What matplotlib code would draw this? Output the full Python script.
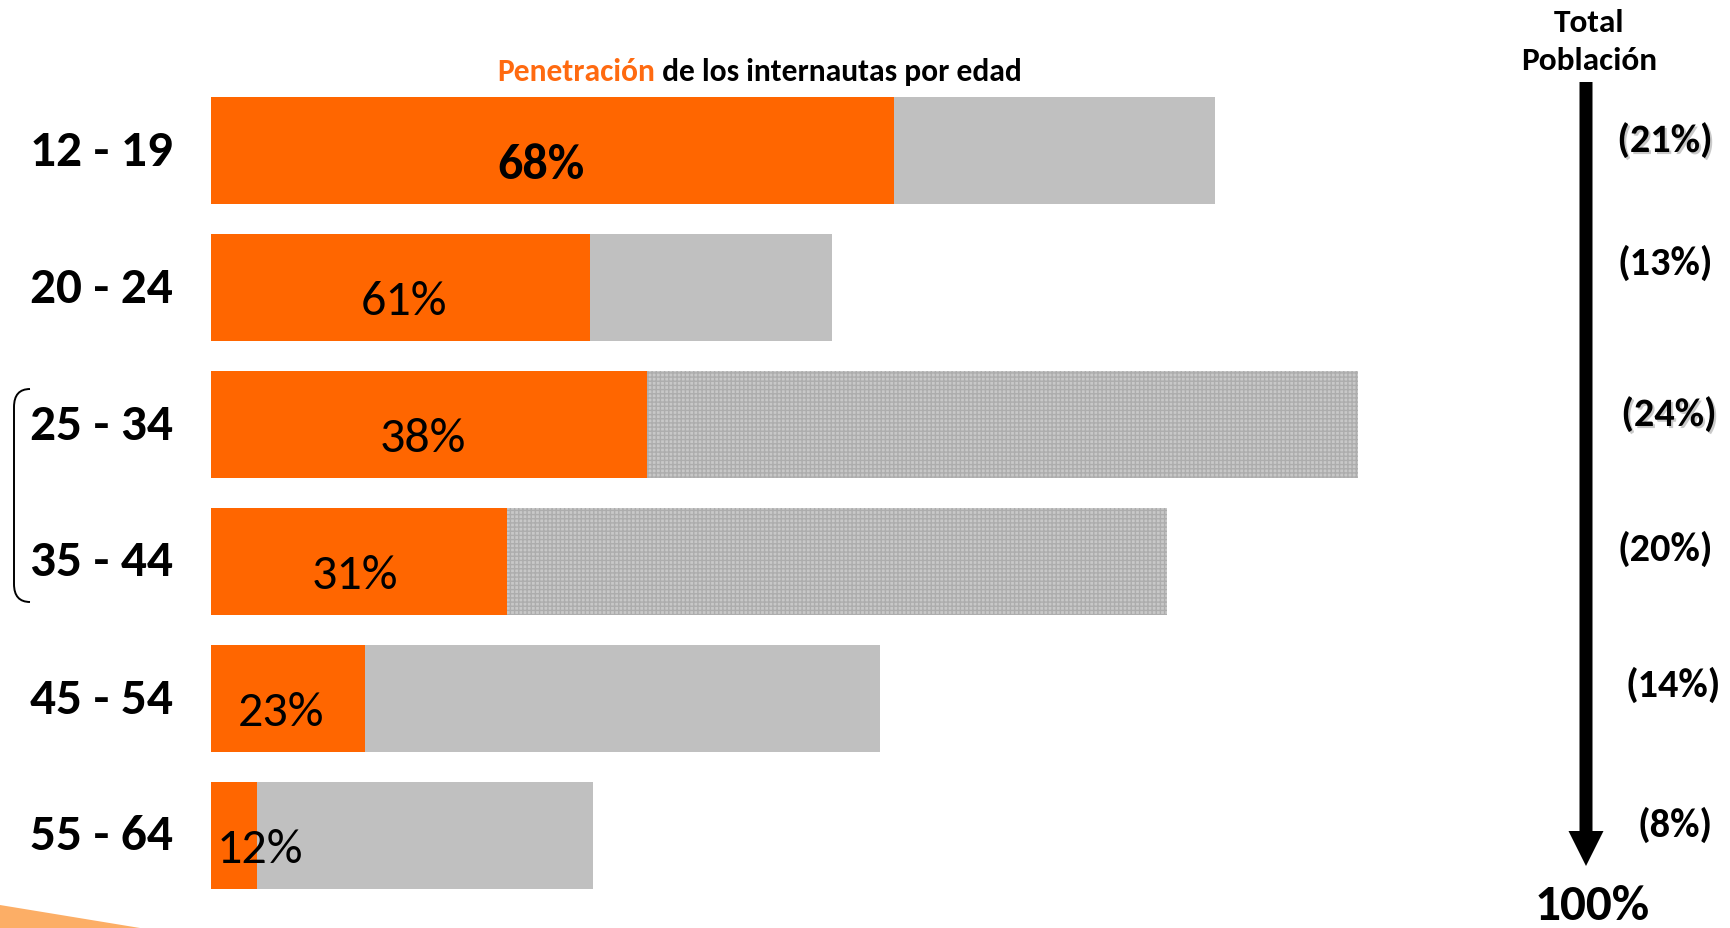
import matplotlib
matplotlib.use("Agg")
import matplotlib.pyplot as plt
import matplotlib.patheffects as pe
from matplotlib.path import Path
from matplotlib.patches import PathPatch, Polygon

# Age groups, share of total population and internet penetration within each group
ages = ["12 - 19", "20 - 24", "25 - 34", "35 - 44", "45 - 54", "55 - 64"]
population = [21, 13, 24, 20, 14, 8]
penetration = [68, 61, 38, 31, 23, 12]

ORANGE = "#ff6600"
GREY = "#c0c0c0"
SANS = ["Carlito", "Lato", "DejaVu Sans"]

W, H = 1730, 929
fig = plt.figure(figsize=(W / 100, H / 100), dpi=100)

# bar axes: x in % of population, 47.8 px per unit, bars start at x=211 px
px_per_unit = 47.8
x0_px = 211
row0_px, row_step = 151.5, 137
ax = fig.add_axes([0, 0, 1, 1])
ax.set_xlim(-x0_px / px_per_unit, (W - x0_px) / px_per_unit)
ax.set_ylim((H - row0_px) / row_step, -row0_px / row_step)
ax.axis("off")

rows = list(range(len(ages)))
internet = [p * q / 100 for p, q in zip(population, penetration)]
hatched = [False, False, True, True, False, False]

for i in rows:
    if hatched[i]:
        ax.barh(i, population[i], height=0.775, color="#c8c8c8", hatch="++++",
                edgecolor="#adadad", linewidth=0)
    else:
        ax.barh(i, population[i], height=0.775, color=GREY, linewidth=0)
ax.barh(rows, internet, height=0.775, color=ORANGE, linewidth=0)

# label positions inside the bars (x in data units)
label_x = [6.9, 4.04, 4.44, 3.02, 1.46, 1.03]
for i in rows:
    bold = i == 0
    ax.text(label_x[i], i + 0.1, f"{penetration[i]}%", ha="center", va="center",
            fontsize=36, fontweight="bold" if bold else "normal",
            family=SANS, color="black")
    ax.text(-0.8, i, ages[i], ha="right", va="center", fontsize=37,
            fontweight="bold", family=SANS, color="black")

# overlay in pixel coordinates for titles, arrow and decorations
ov = fig.add_axes([0, 0, 1, 1], facecolor="none")
ov.set_xlim(0, W)
ov.set_ylim(H, 0)
ov.axis("off")

t1 = ov.text(497, 86, "Penetración", ha="left", va="bottom", fontsize=22.7,
             fontweight="bold", family=SANS, color="#ff6a10")
ov.annotate(" de los internautas por edad", xy=(1, 0), xycoords=t1,
            ha="left", va="bottom", fontsize=22.7, fontweight="bold",
            family=SANS, color="black")

ov.text(1589, 23, "Total", ha="center", va="center", fontsize=24,
        fontweight="semibold", family=SANS)
ov.text(1589, 61, "Población", ha="center", va="center", fontsize=24,
        fontweight="semibold", family=SANS)

ov.annotate("", xy=(1586, 867), xytext=(1586, 83),
            arrowprops=dict(arrowstyle="simple,head_length=1.4,head_width=1.4,tail_width=0.52",
                            mutation_scale=18, fc="black", ec="none",
                            shrinkA=0, shrinkB=0))

share_xy = [(1665, 141), (1665, 263), (1669, 415), (1665, 549), (1673, 685), (1675, 825)]
shadow = [True, False, True, False, False, False]
for (x, y), p, s in zip(share_xy, population, shadow):
    effects = [pe.withSimplePatchShadow(offset=(1.5, -1.5), shadow_rgbFace="#888888", alpha=0.45)] if s else None
    ov.text(x, y, f"({p}%)", ha="center", va="center", fontsize=29,
            fontweight="bold", family=SANS, path_effects=effects)

ov.text(1592, 928, f"{sum(population)}%", ha="center", va="bottom",
        fontsize=37, fontweight="bold", family=SANS)

# bracket grouping 25-34 and 35-44
verts = [(30, 390), (14, 390), (14, 408), (14, 585), (14, 603), (30, 603)]
codes = [Path.MOVETO, Path.CURVE3, Path.CURVE3, Path.LINETO, Path.CURVE3, Path.CURVE3]
ov.add_patch(PathPatch(Path(verts, codes), fill=False, lw=1.4, ec="black"))

# orange swoosh in the lower left corner
ov.add_patch(Polygon([(0, 906), (140, 929), (0, 929)], closed=True,
                     fc="#fcae66", ec="none"))

fig.savefig("out.png", dpi=100)
